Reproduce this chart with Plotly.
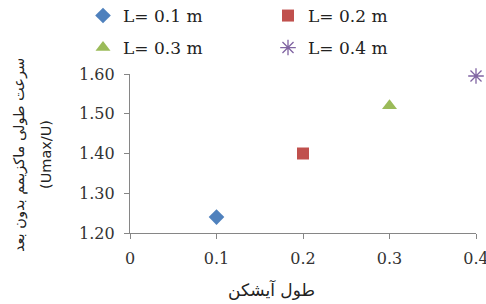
import plotly.graph_objects as go

# ---- data ----
lengths = [0.1, 0.2, 0.3, 0.4]
umax_ratio = [1.24, 1.40, 1.52, 1.595]
series_names = ["L= 0.1 m", "L= 0.2 m", "L= 0.3 m", "L= 0.4 m"]
x_tick_vals = [0, 0.1, 0.2, 0.3, 0.4]
y_tick_vals = [1.20, 1.30, 1.40, 1.50, 1.60]
x_title = "طول آیشکن"
y_title_lines = ["سرعت طولی ماکزیمم بدون بعد", "(Umax/U)"]

# ---- styles ----
symbols = ["diamond", "square", "triangle-up", "asterisk-open"]
colors = ["#4F81BD", "#C0504D", "#9BBB59", "#8064A2"]
sizes = [12, 12, 13, 13]
legend_ids = ["legend", "legend", "legend2", "legend2"]

fig = go.Figure()
for i in range(len(lengths)):
    marker = dict(symbol=symbols[i], color=colors[i], size=sizes[i])
    if symbols[i] == "asterisk-open":
        marker["line"] = dict(color=colors[i], width=1.3)
    else:
        marker["line"] = dict(width=0)
    fig.add_trace(go.Scatter(
        x=[lengths[i]], y=[umax_ratio[i]], mode="markers",
        name=series_names[i], marker=marker, cliponaxis=False,
        legend=legend_ids[i],
    ))

axis_color = "#868686"
tick_font = dict(family="DejaVu Serif", size=16, color="#333333")
leg_font = dict(family="DejaVu Serif", size=17, color="#222222")

W, H = 486, 304
L, R, T, B = 130, 10, 74, 71
pw, ph = W - L - R, H - T - B

def py(pix):
    """pixel y (from top) -> paper y"""
    return (H - B - pix) / ph

def px(pix):
    """pixel x (from left) -> paper x"""
    return (pix - L) / pw

fig.update_layout(
    width=W, height=H,
    margin=dict(l=L, r=R, t=T, b=B, autoexpand=False),
    paper_bgcolor="white", plot_bgcolor="white",
    xaxis=dict(range=[0, 0.4], tickvals=x_tick_vals, showgrid=False, zeroline=False,
               showline=True, linecolor=axis_color, linewidth=1.3,
               ticks="outside", ticklen=5, tickcolor=axis_color,
               tickfont=tick_font, ticklabelstandoff=6, ticklabeloverflow="allow"),
    yaxis=dict(range=[1.2, 1.6], tickvals=y_tick_vals, tickformat=".2f",
               showgrid=False, zeroline=False,
               showline=True, linecolor=axis_color, linewidth=1.3,
               ticks="outside", ticklen=5, tickcolor=axis_color,
               tickfont=tick_font, ticklabelstandoff=6, ticklabeloverflow="allow"),
    legend=dict(orientation="h", xref="paper", yref="paper",
                x=px(83), y=py(16), xanchor="left", yanchor="middle",
                entrywidth=140, font=leg_font, bgcolor="rgba(0,0,0,0)"),
    legend2=dict(orientation="h", xref="paper", yref="paper",
                 x=px(83), y=py(48), xanchor="left", yanchor="middle",
                 entrywidth=140, font=leg_font, bgcolor="rgba(0,0,0,0)"),
    showlegend=True,
    annotations=[
        dict(text=x_title, xref="paper", yref="paper", x=px(271), y=py(289),
             xanchor="center", yanchor="middle", showarrow=False,
             font=dict(family="DejaVu Sans", size=17, color="#222222")),
        dict(text=y_title_lines[0], xref="paper", yref="paper",
             x=px(19), y=py(155), xanchor="center", yanchor="middle",
             textangle=-90, showarrow=False,
             font=dict(family="DejaVu Sans", size=14.5, color="#222222")),
        dict(text=y_title_lines[1], xref="paper", yref="paper",
             x=px(46), y=py(155), xanchor="center", yanchor="middle",
             textangle=-90, showarrow=False,
             font=dict(family="DejaVu Sans", size=14.5, color="#222222")),
    ],
)

fig.write_html("out.html", config={"displayModeBar": False},
               post_script="document.body.style.margin='0';")
